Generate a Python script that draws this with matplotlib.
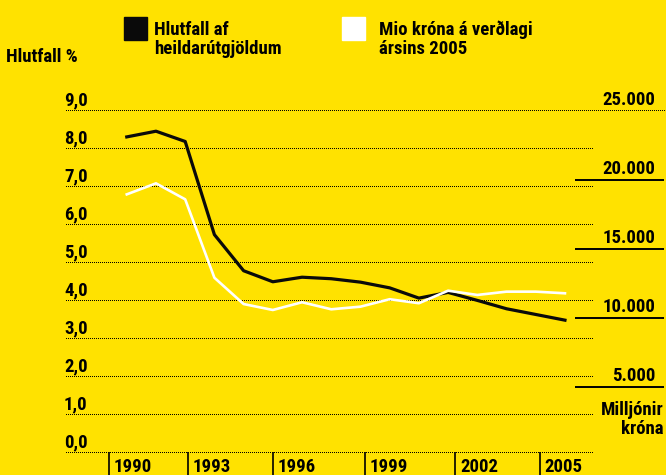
import matplotlib
matplotlib.use("Agg")
import matplotlib.pyplot as plt
from matplotlib.patches import Rectangle

plt.rcParams['font.family'] = ['Roboto Condensed', 'DejaVu Sans']
plt.rcParams['font.weight'] = 'bold'

# Data
years = list(range(1990, 2006))
# Hlutfall af heildarútgjöldum (%), left axis
share_pct = [8.30, 8.45, 8.18, 5.73, 4.78, 4.49, 4.61, 4.57,
             4.48, 4.33, 4.06, 4.21, 4.00, 3.78, 3.63, 3.48]
# Mio króna á verðlagi ársins 2005, right axis
mio_kr = [18950, 19750, 18590, 12900, 10990, 10560, 11120, 10610,
          10800, 11340, 11050, 11960, 11650, 11890, 11890, 11770]

left_ticks = [0, 1, 2, 3, 4, 5, 6, 7, 8, 9]
left_labels = ["0,0", "1,0", "2,0", "3,0", "4,0", "5,0", "6,0", "7,0", "8,0", "9,0"]
right_ticks = [5000, 10000, 15000, 20000, 25000]
right_labels = ["5.000", "10.000", "15.000", "20.000", "25.000"]
year_ticks = ["1990", "1993", "1996", "1999", "2002", "2005"]
year_tick_pos = [1989.4, 1992.1, 1995.0, 1998.15, 2001.25, 2004.15]

BG = "#FFE200"
FS = 13.5

fig = plt.figure(figsize=(6.66, 4.75), dpi=100, facecolor=BG)
ax = fig.add_axes([0.0991, 0.0474, 0.7913, 0.7204])
ax.set_facecolor("none")
ax.set_xlim(1987.92, 2005.96)
ax.set_ylim(0, 9)
for s in ax.spines.values():
    s.set_visible(False)
ax.set_yticks([])
ax.set_xticks(year_tick_pos)
ax.set_xticklabels([])
ax.tick_params(axis="x", direction="out", length=19, width=1.2, color="black")

# dotted gridlines, top one runs under the right labels
for v, lbl in zip(left_ticks, left_labels):
    xmax = 1.1366 if v == 9 else 1.0
    ax.axhline(v, xmin=0, xmax=xmax, color="black", lw=0.72,
               linestyle=(0, (1, 2)), antialiased=False, clip_on=False, zorder=1)
    ax.annotate(lbl, xy=(0, v), xycoords=ax.get_yaxis_transform(),
                xytext=(-1.5, 3.4), textcoords="offset points",
                ha="left", va="baseline", fontsize=FS, fontweight="bold")

for x, lbl in zip(year_tick_pos, year_ticks):
    ax.annotate(lbl, xy=(x, 0), xycoords=ax.get_xaxis_transform(),
                xytext=(3.4, -13.9), textcoords="offset points",
                ha="left", va="baseline", fontsize=FS, fontweight="bold")

ax2 = ax.twinx()
ax2.set_ylim(218, 25051)
ax2.set_yticks([])
for s in ax2.spines.values():
    s.set_visible(False)

for v, lbl in zip(right_ticks, right_labels):
    ax2.annotate(lbl, xy=(1.1177, v), xycoords=ax2.get_yaxis_transform(),
                 xytext=(0, 4.0), textcoords="offset points",
                 ha="right", va="baseline", fontsize=FS, fontweight="bold")
    if v != 25000:
        ax2.plot([0.9658, 1.1347], [v, v], transform=ax2.get_yaxis_transform(),
                 color="black", lw=1.4, clip_on=False, solid_capstyle="butt")

ax2.text(1.1347, 2600, "Milljónir\nkróna", transform=ax2.get_yaxis_transform(),
         ha="right", va="center", fontsize=FS, fontweight="bold", linespacing=1.05)

ax.plot(years, share_pct, color="#0a0a0a", lw=2.3, zorder=4)
ax2.plot(years, mio_kr, color="white", lw=1.9, zorder=3)

# header texts and legend
fig.text(6.4 / 666, 1 - 57.3 / 475, "Hlutfall %", ha="left", va="center",
         fontsize=FS, fontweight="bold")

fig.patches.append(Rectangle((124 / 666, 1 - 40 / 475), 23 / 666, 23 / 475,
                             transform=fig.transFigure, color="#0a0a0a"))
fig.patches.append(Rectangle((342 / 666, 1 - 40 / 475), 23 / 666, 23 / 475,
                             transform=fig.transFigure, color="white"))
fig.text(154 / 666, 1 - 39.5 / 475, "Hlutfall af\nheildarútgjöldum", ha="left",
         va="center", fontsize=FS, fontweight="bold", linespacing=1.05)
fig.text(379 / 666, 1 - 39.5 / 475, "Mio króna á verðlagi\nársins 2005", ha="left",
         va="center", fontsize=FS, fontweight="bold", linespacing=1.05)

fig.savefig("out.png", dpi=100, facecolor=BG)
